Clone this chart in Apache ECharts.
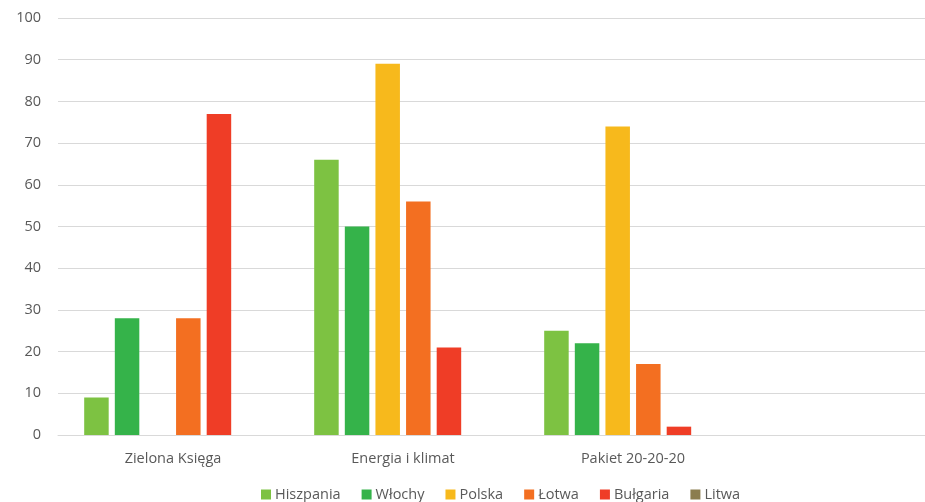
<!DOCTYPE html>
<html>
<head>
<meta charset="utf-8">
<script src="https://cdn.jsdelivr.net/npm/echarts@6/dist/echarts.min.js"></script>
<style>html,body{margin:0;padding:0;background:#fff;overflow:hidden;width:925px;height:502px}#c{width:978px;height:502px}</style>
</head>
<body>
<div id="c"></div>
<script>
var categories = ["Zielona Księga", "Energia i klimat", "Pakiet 20-20-20", ""];
var seriesNames = ["Hiszpania", "Włochy", "Polska", "Łotwa", "Bułgaria", "Litwa"];
var hiszpania = [9, 66, 25, null];
var wlochy = [28, 50, 22, null];
var polska = [null, 89, 74, null];
var lotwa = [28, 56, 17, null];
var bulgaria = [77, 21, 2, null];
var litwa = [null, null, null, null];
var yTicks = [0, 10, 20, 30, 40, 50, 60, 70, 80, 90, 100];

var colors = ["#7DC242", "#35B34A", "#F7B91C", "#F36F21", "#EF3D26", "#8B7D4E"];
var values = [hiszpania, wlochy, polska, lotwa, bulgaria, litwa];
var font = "'Open Sans', sans-serif";

var chart = echarts.init(document.getElementById('c'));
chart.setOption({
  animation: false,
  color: colors,
  textStyle: { fontFamily: font },
  grid: { left: 58, top: 18, right: 0, bottom: 67, containLabel: false },
  legend: {
    data: seriesNames,
    left: 256, top: 482,
    itemWidth: 10, itemHeight: 10, itemGap: 21,
    icon: 'rect',
    textStyle: { color: '#595959', fontSize: 14.5, fontFamily: font, padding: [0, 0, 0, -1] }
  },
  xAxis: {
    type: 'category',
    data: categories,
    axisLine: { lineStyle: { color: '#d9d9d9' } },
    axisTick: { show: false },
    axisLabel: { color: '#595959', fontSize: 14.5, fontFamily: font, margin: 16 }
  },
  yAxis: {
    type: 'value',
    min: yTicks[0], max: yTicks[yTicks.length - 1], interval: 10,
    axisLine: { show: false },
    axisTick: { show: false },
    splitLine: { lineStyle: { color: '#d9d9d9' } },
    axisLabel: { color: '#595959', fontSize: 14.5, fontFamily: font, margin: 17 }
  },
  series: seriesNames.map(function (n, i) {
    return {
      name: n, type: 'bar', data: values[i],
      barWidth: 24.5, barGap: '25%',
      itemStyle: { color: colors[i] }
    };
  })
});
</script>
</body>
</html>
